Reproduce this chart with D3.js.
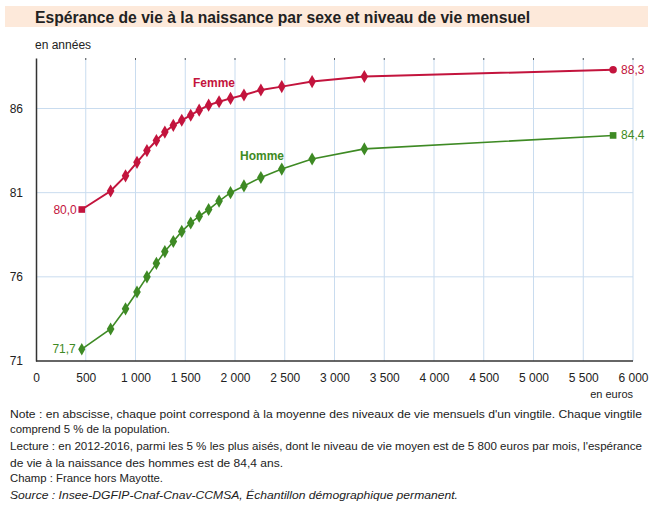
<!DOCTYPE html>
<html>
<head>
<meta charset="utf-8">
<script src="https://cdn.jsdelivr.net/npm/d3@7"></script>
<style>
  body { margin: 0; background: #fff; }
  svg { display: block; font-family: "Liberation Sans", Arial, sans-serif; }
</style>
</head>
<body>
<svg id="chart" width="660" height="516"></svg>
<script>
// Niveau de vie moyen de chaque vingtile (euros par mois)
var income = [460, 750, 900, 1015, 1115, 1210, 1295, 1380, 1465, 1555,
              1640, 1735, 1840, 1955, 2090, 2260, 2470, 2775, 3300, 5800];
// Espérance de vie à la naissance (années)
var femme = [80.0, 81.1, 82.0, 82.8, 83.5, 84.1, 84.6, 85.0, 85.3, 85.6,
             85.9, 86.2, 86.4, 86.6, 86.8, 87.1, 87.3, 87.6, 87.9, 88.3];
var homme = [71.7, 72.9, 74.1, 75.1, 76.0, 76.8, 77.5, 78.1, 78.7, 79.2,
             79.6, 80.0, 80.5, 81.0, 81.4, 81.9, 82.4, 83.0, 83.6, 84.4];
var xTicks = [0, 500, 1000, 1500, 2000, 2500, 3000, 3500, 4000, 4500, 5000, 5500, 6000];
var yTicks = [71, 76, 81, 86];

var notes = [
  "Note : en abscisse, chaque point correspond à la moyenne des niveaux de vie mensuels d'un vingtile. Chaque vingtile",
  "comprend 5 % de la population.",
  "Lecture : en 2012-2016, parmi les 5 % les plus aisés, dont le niveau de vie moyen est de 5 800 euros par mois, l'espérance",
  "de vie à la naissance des hommes est de 84,4 ans.",
  "Champ : France hors Mayotte.",
  "Source : Insee-DGFIP-Cnaf-Cnav-CCMSA, Échantillon démographique permanent."
];

var RED = '#c3143d', GREEN = '#3e8a24', GRID = '#c9dcef';

var svg = d3.select('#chart');

var x = d3.scaleLinear().domain([0, 6000]).range([36, 633]);
var y = d3.scaleLinear().domain([71, 89]).range([361, 58]);

// title band
svg.append('rect').attr('x', 5).attr('y', 6).attr('width', 643).attr('height', 21)
   .attr('fill', '#fde9da');
svg.append('text').attr('x', 35).attr('y', 23)
   .attr('font-size', 16).attr('font-weight', 'bold').attr('fill', '#222')
   .attr('textLength', 495).attr('lengthAdjust', 'spacingAndGlyphs')
   .text('Espérance de vie à la naissance par sexe et niveau de vie mensuel');

svg.append('text').attr('x', 35).attr('y', 49).attr('font-size', 12).attr('fill', '#222')
   .text('en années');

// grid
svg.append('g').selectAll('line').data(xTicks.slice(1)).enter().append('line')
   .attr('x1', function(d) { return x(d); }).attr('x2', function(d) { return x(d); })
   .attr('y1', y(89)).attr('y2', y(71))
   .attr('stroke', GRID).attr('stroke-width', 1);
svg.append('g').selectAll('line').data(xTicks.slice(1)).enter().append('line')
   .attr('x1', function(d) { return x(d); }).attr('x2', function(d) { return x(d); })
   .attr('y1', y(89)).attr('y2', y(89) + 2)
   .attr('stroke', '#555').attr('stroke-width', 1);
svg.append('g').selectAll('line').data(yTicks.slice(1)).enter().append('line')
   .attr('x1', x(0)).attr('x2', x(6000))
   .attr('y1', function(d) { return y(d); }).attr('y2', function(d) { return y(d); })
   .attr('stroke', GRID).attr('stroke-width', 1);

// axes
var fmt = function(d) { return d3.format(',')(d).replace(/,/g, ' '); };
var xAxis = svg.append('g').attr('transform', 'translate(0,' + y(71) + ')')
   .call(d3.axisBottom(x).tickValues(xTicks).tickSize(0).tickPadding(12).tickFormat(fmt));
var yAxis = svg.append('g').attr('transform', 'translate(' + x(0) + ',0)')
   .call(d3.axisLeft(y).tickValues(yTicks).tickSize(0).tickPadding(13));
[xAxis, yAxis].forEach(function(a) {
  a.select('.domain').attr('stroke', '#333').attr('stroke-width', 1.5);
  a.selectAll('text').attr('font-size', 12).attr('fill', '#222')
   .attr('font-family', '"Liberation Sans", Arial, sans-serif');
});
xAxis.select('.domain').attr('d', 'M' + x(0) + ',0H' + x(6000));

svg.append('text').attr('x', 633).attr('y', 398).attr('text-anchor', 'end')
   .attr('font-size', 11).attr('fill', '#222').text('en euros');

// series
var line = d3.line()
   .x(function(d, i) { return x(income[i]); })
   .y(function(d) { return y(d); });

function drawSeries(values, color, width, firstShape, lastShape) {
  var g = svg.append('g');
  g.append('path').datum(values).attr('d', line)
   .attr('fill', 'none').attr('stroke', color).attr('stroke-width', width);
  g.selectAll('path.m').data(values).enter().append('path').attr('class', 'm')
   .attr('transform', function(d, i) { return 'translate(' + x(income[i]) + ',' + y(d) + ')'; })
   .attr('d', function(d, i) {
     var shape = d3.symbolDiamond, size = 50;
     if (i === 0) { shape = firstShape; size = 44; }
     if (i === values.length - 1) { shape = lastShape; size = 44; }
     return d3.symbol().type(shape).size(size)();
   })
   .attr('fill', color);
}
drawSeries(femme, RED, 2, d3.symbolSquare, d3.symbolCircle);
drawSeries(homme, GREEN, 1.6, d3.symbolDiamond, d3.symbolSquare);

// value labels
var dec = function(v) { return d3.format('.1f')(v).replace('.', ','); };
function valueLabel(v, i, color, anchor, dx) {
  svg.append('text').attr('x', x(income[i]) + dx).attr('y', y(v) + 4)
     .attr('text-anchor', anchor).attr('font-size', 12).attr('fill', color)
     .text(dec(v));
}
valueLabel(femme[0], 0, RED, 'end', -5);
valueLabel(homme[0], 0, GREEN, 'end', -6);
valueLabel(femme[femme.length - 1], femme.length - 1, RED, 'start', 8);
valueLabel(homme[homme.length - 1], homme.length - 1, GREEN, 'start', 8);

svg.append('text').attr('x', 193).attr('y', 87).attr('font-size', 12)
   .attr('font-weight', 'bold').attr('fill', RED).text('Femme');
svg.append('text').attr('x', 240).attr('y', 160).attr('font-size', 12)
   .attr('font-weight', 'bold').attr('fill', GREEN).text('Homme');

// notes: one common font size so the longest line fits, then fit each line to its width
var noteY = [418, 433, 450, 467, 482, 499];
var noteW = [632, 160, 632, 273, 153, 448];
var noteText = svg.append('g').selectAll('text').data(notes).enter().append('text')
   .attr('x', 10).attr('y', function(d, i) { return noteY[i]; })
   .attr('font-size', 12.5).attr('fill', '#222')
   .attr('font-style', function(d, i) { return i === 5 ? 'italic' : 'normal'; })
   .text(function(d) { return d; });
var ratio = 1;
noteText.each(function(d, i) {
  ratio = Math.min(ratio, noteW[i] / this.getComputedTextLength());
});
noteText.attr('font-size', 12.5 * ratio)
   .attr('textLength', function(d, i) { return noteW[i]; })
   .attr('lengthAdjust', 'spacingAndGlyphs');
</script>
</body>
</html>
